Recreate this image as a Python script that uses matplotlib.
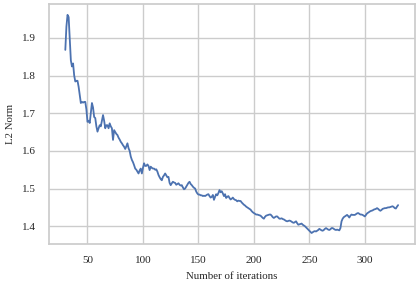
import matplotlib
matplotlib.use("Agg")
import matplotlib.pyplot as plt
import seaborn as sns

# Iterations and L2 norm values
iterations = list(range(30, 331))
l2_norm = [
    1.868, 1.930, 1.961, 1.955, 1.900, 1.840, 1.824, 1.832, 1.800, 1.784,  # 30-39
    1.786, 1.786, 1.770, 1.748, 1.727, 1.730, 1.728, 1.730, 1.730, 1.710,  # 40-49
    1.677, 1.680, 1.674, 1.700, 1.727, 1.715, 1.690, 1.687, 1.665, 1.651,  # 50-59
    1.660, 1.668, 1.665, 1.680, 1.695, 1.680, 1.660, 1.668, 1.668, 1.660,  # 60-69
    1.673, 1.665, 1.660, 1.629, 1.655, 1.650, 1.645, 1.642, 1.635, 1.630,  # 70-79
    1.624, 1.620, 1.615, 1.611, 1.605, 1.612, 1.620, 1.607, 1.600, 1.585,  # 80-89
    1.576, 1.570, 1.562, 1.553, 1.550, 1.545, 1.540, 1.548, 1.553, 1.540,  # 90-99
    1.555, 1.567, 1.560, 1.560, 1.564, 1.560, 1.549, 1.558, 1.555, 1.553,  # 100-109
    1.553, 1.550, 1.551, 1.545, 1.536, 1.530, 1.525, 1.522, 1.531, 1.535,  # 110-119
    1.540, 1.535, 1.530, 1.531, 1.515, 1.509, 1.514, 1.518, 1.516, 1.515,  # 120-129
    1.510, 1.512, 1.514, 1.510, 1.508, 1.509, 1.503, 1.498, 1.500, 1.505,  # 130-139
    1.510, 1.515, 1.518, 1.512, 1.509, 1.505, 1.502, 1.500, 1.492, 1.487,  # 140-149
    1.484, 1.484, 1.482, 1.482, 1.480, 1.481, 1.480, 1.482, 1.484, 1.485,  # 150-159
    1.480, 1.476, 1.478, 1.483, 1.470, 1.478, 1.485, 1.482, 1.488, 1.496,  # 160-169
    1.490, 1.493, 1.487, 1.480, 1.485, 1.475, 1.478, 1.480, 1.475, 1.471,  # 170-179
    1.473, 1.476, 1.472, 1.470, 1.469, 1.466, 1.468, 1.467, 1.467, 1.463,  # 180-189
    1.460, 1.457, 1.455, 1.452, 1.450, 1.448, 1.446, 1.444, 1.440, 1.437,  # 190-199
    1.435, 1.433, 1.431, 1.431, 1.430, 1.429, 1.428, 1.425, 1.422, 1.420,  # 200-209
    1.425, 1.428, 1.429, 1.430, 1.431, 1.431, 1.428, 1.424, 1.422, 1.424,  # 210-219
    1.426, 1.426, 1.423, 1.420, 1.420, 1.421, 1.419, 1.418, 1.416, 1.414,  # 220-229
    1.413, 1.414, 1.415, 1.414, 1.412, 1.410, 1.409, 1.411, 1.413, 1.408,  # 230-239
    1.404, 1.405, 1.406, 1.407, 1.404, 1.402, 1.400, 1.397, 1.394, 1.391,  # 240-249
    1.388, 1.385, 1.382, 1.384, 1.386, 1.387, 1.386, 1.388, 1.390, 1.393,  # 250-259
    1.391, 1.389, 1.388, 1.390, 1.393, 1.395, 1.393, 1.391, 1.390, 1.392,  # 260-269
    1.395, 1.395, 1.393, 1.391, 1.390, 1.391, 1.390, 1.389, 1.395, 1.413,  # 270-279
    1.420, 1.424, 1.426, 1.428, 1.430, 1.427, 1.423, 1.428, 1.431, 1.430,  # 280-289
    1.430, 1.430, 1.432, 1.434, 1.435, 1.433, 1.431, 1.431, 1.430, 1.428,  # 290-299
    1.426, 1.430, 1.434, 1.436, 1.438, 1.440, 1.441, 1.442, 1.444, 1.445,  # 300-309
    1.446, 1.448, 1.446, 1.443, 1.441, 1.443, 1.446, 1.447, 1.448, 1.448,  # 310-319
    1.449, 1.450, 1.450, 1.451, 1.452, 1.453, 1.451, 1.448, 1.447, 1.452,  # 320-329
    1.456,                                                                 # 330
]

sns.set_theme(style="whitegrid")
plt.rcParams['font.family'] = ['Liberation Serif', 'DejaVu Serif']

fig = plt.figure(figsize=(4.16, 2.81), dpi=100)
ax = fig.add_axes([0.117, 0.132, 0.88, 0.854])

ax.plot(iterations, l2_norm, color='#4C72B0', linewidth=1.3)

ax.set_xlabel('Number of iterations', fontsize=7.8, labelpad=5)
ax.set_ylabel('L2 Norm', fontsize=7.8, labelpad=5)
ax.tick_params(axis='both', labelsize=8, pad=3)
ax.set_xticks([50, 100, 150, 200, 250, 300])
ax.set_yticks([1.4, 1.5, 1.6, 1.7, 1.8, 1.9])
for s in ax.spines.values():
    s.set_color('#cccccc')

fig.savefig('out.png', dpi=100)
plt.close()
